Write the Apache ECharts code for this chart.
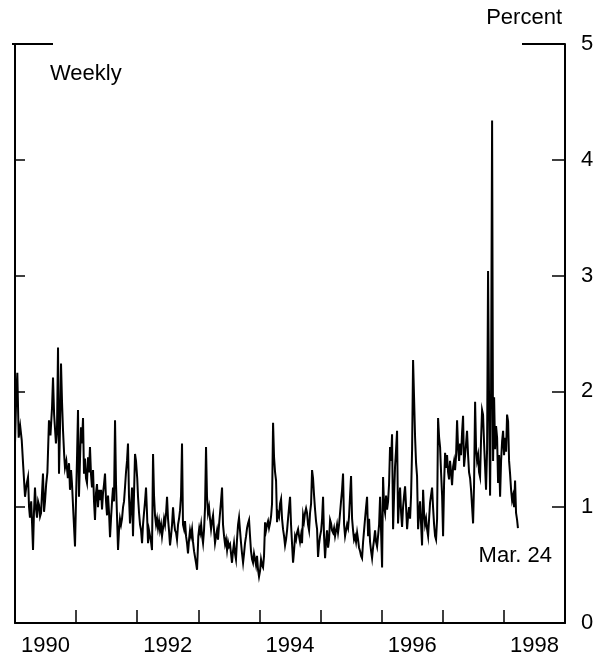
<!DOCTYPE html>
<html>
<head>
<meta charset="utf-8">
<script src="https://cdn.jsdelivr.net/npm/echarts@6/dist/echarts.min.js"></script>
<style>
html,body{margin:0;padding:0;background:#fff;}
#chart{width:607px;height:663px;}
</style>
</head>
<body>
<div id="chart"></div>
<script>
// Weekly observations: [decimal year, percent]
const obs1990 = [[1990.000,1.55],[1990.020,1.95],[1990.038,2.16],[1990.060,1.60],[1990.085,1.70],[1990.110,1.58],[1990.135,1.35],[1990.164,1.09],[1990.190,1.20],[1990.213,1.26],[1990.230,1.00],[1990.245,0.91],[1990.265,1.05],[1990.280,0.85],[1990.295,0.63],[1990.310,0.95],[1990.327,1.17],[1990.345,0.98],[1990.360,0.91],[1990.378,1.05],[1990.393,1.02],[1990.410,0.92],[1990.426,0.95],[1990.440,1.10],[1990.458,1.29],[1990.475,0.96],[1990.491,1.05],[1990.510,1.20],[1990.530,1.30],[1990.556,1.75],[1990.580,1.62],[1990.606,1.86],[1990.622,2.12],[1990.640,1.80],[1990.655,1.79],[1990.670,1.55],[1990.687,1.66],[1990.704,2.38],[1990.720,1.29],[1990.737,1.70],[1990.753,2.24],[1990.770,1.90],[1990.786,1.66],[1990.805,1.45],[1990.818,1.34],[1990.840,1.40],[1990.865,1.25],[1990.884,1.38],[1990.900,1.15],[1990.917,1.32],[1990.933,1.20],[1990.955,0.95],[1990.982,0.66]];
const obs1991 = [[1991.000,1.10],[1991.015,1.43],[1991.031,1.84],[1991.047,1.09],[1991.063,1.40],[1991.080,1.69],[1991.096,1.55],[1991.113,1.77],[1991.129,1.29],[1991.145,1.42],[1991.162,1.25],[1991.178,1.21],[1991.195,1.43],[1991.210,1.30],[1991.227,1.52],[1991.244,1.28],[1991.260,1.17],[1991.277,1.32],[1991.293,1.05],[1991.309,0.89],[1991.325,1.12],[1991.342,1.20],[1991.358,1.00],[1991.375,1.15],[1991.391,1.06],[1991.408,1.15],[1991.424,0.98],[1991.440,1.12],[1991.457,1.20],[1991.473,1.29],[1991.490,1.05],[1991.506,0.93],[1991.522,1.10],[1991.539,0.95],[1991.555,0.74],[1991.571,0.90],[1991.588,1.05],[1991.604,1.17],[1991.620,1.05],[1991.637,1.75],[1991.653,1.20],[1991.669,0.93],[1991.686,0.63],[1991.702,0.80],[1991.718,0.90],[1991.735,0.85],[1991.751,0.90],[1991.768,1.00],[1991.784,1.05],[1991.800,1.17],[1991.816,1.30],[1991.833,1.40],[1991.849,1.55],[1991.865,1.10],[1991.882,0.86],[1991.898,1.00],[1991.915,1.17],[1991.931,0.75],[1991.947,1.10],[1991.964,1.46],[1991.980,1.40]];
const obs1992 = [[1992.000,1.25],[1992.013,1.09],[1992.030,0.95],[1992.046,0.85],[1992.063,0.80],[1992.079,0.69],[1992.095,0.85],[1992.111,0.95],[1992.128,1.05],[1992.144,1.17],[1992.160,0.95],[1992.177,0.69],[1992.193,0.80],[1992.210,0.75],[1992.226,0.70],[1992.242,0.63],[1992.259,1.46],[1992.275,1.10],[1992.291,0.93],[1992.308,0.85],[1992.324,0.90],[1992.340,0.82],[1992.357,0.88],[1992.373,0.80],[1992.390,0.85],[1992.406,0.75],[1992.422,0.82],[1992.439,0.90],[1992.455,0.85],[1992.472,0.95],[1992.488,1.09],[1992.504,0.90],[1992.520,0.80],[1992.537,0.67],[1992.553,0.75],[1992.570,0.85],[1992.586,1.00],[1992.602,0.88],[1992.619,0.80],[1992.635,0.78],[1992.651,0.72],[1992.668,0.85],[1992.684,0.90],[1992.700,0.97],[1992.717,1.10],[1992.733,1.55],[1992.749,0.85],[1992.766,0.81],[1992.782,0.88],[1992.799,0.75],[1992.815,0.69],[1992.831,0.60],[1992.848,0.72],[1992.864,0.80],[1992.880,0.75],[1992.897,0.81],[1992.913,0.70],[1992.930,0.62],[1992.946,0.57],[1992.962,0.52],[1992.979,0.46]];
const obs1993 = [[1993.000,0.75],[1993.015,0.82],[1993.030,0.78],[1993.046,0.85],[1993.062,0.75],[1993.077,0.69],[1993.093,0.80],[1993.110,1.00],[1993.126,1.52],[1993.142,1.09],[1993.158,0.95],[1993.175,1.00],[1993.191,0.90],[1993.208,0.81],[1993.224,0.88],[1993.241,0.93],[1993.257,0.80],[1993.273,0.69],[1993.290,0.75],[1993.306,0.80],[1993.322,0.72],[1993.339,0.85],[1993.355,0.95],[1993.371,1.05],[1993.388,1.17],[1993.404,0.85],[1993.421,0.75],[1993.437,0.68],[1993.453,0.72],[1993.470,0.63],[1993.486,0.70],[1993.502,0.66],[1993.519,0.68],[1993.535,0.60],[1993.551,0.52],[1993.567,0.62],[1993.584,0.69],[1993.600,0.60],[1993.616,0.55],[1993.633,0.72],[1993.650,0.85],[1993.666,0.91],[1993.682,0.80],[1993.699,0.69],[1993.715,0.60],[1993.732,0.52],[1993.748,0.60],[1993.764,0.69],[1993.781,0.75],[1993.797,0.82],[1993.813,0.86],[1993.830,0.89],[1993.846,0.75],[1993.862,0.62],[1993.879,0.55],[1993.895,0.52],[1993.911,0.60],[1993.928,0.55],[1993.944,0.50],[1993.960,0.58],[1993.977,0.46],[1993.993,0.40]];
const obs1994 = [[1994.010,0.45],[1994.026,0.55],[1994.043,0.50],[1994.059,0.48],[1994.075,0.58],[1994.092,0.87],[1994.108,0.80],[1994.125,0.85],[1994.141,0.88],[1994.157,0.82],[1994.173,0.86],[1994.190,0.92],[1994.206,1.03],[1994.223,1.73],[1994.239,1.43],[1994.256,1.30],[1994.272,1.23],[1994.288,0.87],[1994.304,0.95],[1994.321,0.92],[1994.337,1.03],[1994.354,1.07],[1994.370,0.90],[1994.386,0.81],[1994.403,0.75],[1994.419,0.67],[1994.435,0.72],[1994.452,0.80],[1994.468,0.90],[1994.485,1.00],[1994.501,1.09],[1994.517,0.85],[1994.533,0.69],[1994.550,0.52],[1994.566,0.62],[1994.583,0.75],[1994.599,0.72],[1994.615,0.78],[1994.632,0.81],[1994.648,0.75],[1994.664,0.70],[1994.681,0.76],[1994.697,0.69],[1994.714,0.93],[1994.730,0.88],[1994.746,0.95],[1994.763,0.99],[1994.779,0.95],[1994.795,0.85],[1994.812,0.80],[1994.828,0.95],[1994.845,1.03],[1994.861,1.32],[1994.877,1.25],[1994.894,1.10],[1994.910,0.98],[1994.926,0.88],[1994.943,0.81],[1994.959,0.57],[1994.975,0.68],[1994.992,0.75]];
const obs1995 = [[1995.010,0.80],[1995.025,0.90],[1995.041,1.09],[1995.057,0.75],[1995.074,0.56],[1995.090,0.70],[1995.106,0.80],[1995.123,0.65],[1995.139,0.72],[1995.156,0.89],[1995.172,0.86],[1995.188,0.80],[1995.205,0.78],[1995.221,0.82],[1995.237,0.75],[1995.254,0.80],[1995.270,0.85],[1995.286,0.78],[1995.303,0.85],[1995.319,0.95],[1995.335,1.05],[1995.352,1.15],[1995.368,1.29],[1995.385,0.85],[1995.401,0.75],[1995.417,0.80],[1995.434,0.85],[1995.450,0.82],[1995.466,0.92],[1995.483,1.10],[1995.499,1.27],[1995.516,0.90],[1995.532,0.80],[1995.548,0.72],[1995.565,0.75],[1995.581,0.70],[1995.598,0.78],[1995.614,0.72],[1995.630,0.65],[1995.647,0.62],[1995.663,0.58],[1995.679,0.56],[1995.696,0.70],[1995.712,0.80],[1995.728,0.90],[1995.745,1.00],[1995.761,1.09],[1995.778,0.75],[1995.794,0.90],[1995.810,0.70],[1995.827,0.62],[1995.843,0.56],[1995.859,0.65],[1995.876,0.72],[1995.892,0.80],[1995.908,0.70],[1995.925,0.66],[1995.941,0.75],[1995.958,0.85],[1995.974,1.09],[1995.990,0.80]];
const obs1996 = [[1996.007,0.48],[1996.023,1.26],[1996.040,1.00],[1996.056,0.95],[1996.072,1.10],[1996.088,0.98],[1996.105,1.05],[1996.121,1.20],[1996.137,1.52],[1996.154,1.40],[1996.170,1.63],[1996.187,0.81],[1996.203,1.10],[1996.219,1.35],[1996.236,1.50],[1996.252,1.66],[1996.268,0.86],[1996.285,1.05],[1996.301,1.17],[1996.318,0.95],[1996.334,0.83],[1996.350,1.00],[1996.367,1.10],[1996.383,1.18],[1996.400,1.00],[1996.416,0.81],[1996.432,0.92],[1996.449,1.00],[1996.465,0.90],[1996.481,1.10],[1996.498,1.50],[1996.514,2.27],[1996.530,1.95],[1996.547,1.60],[1996.563,1.38],[1996.579,1.27],[1996.596,0.81],[1996.612,0.95],[1996.628,1.05],[1996.645,0.85],[1996.661,0.67],[1996.678,1.15],[1996.694,0.95],[1996.710,0.85],[1996.727,0.90],[1996.743,0.81],[1996.760,0.75],[1996.776,0.90],[1996.792,1.04],[1996.809,1.05],[1996.825,1.17],[1996.841,1.00],[1996.858,0.85],[1996.874,0.75],[1996.890,0.72],[1996.907,0.90],[1996.923,1.77],[1996.940,1.60],[1996.956,1.52],[1996.972,1.30],[1996.989,1.10]];
const obs1997 = [[1997.005,0.75],[1997.021,1.20],[1997.038,1.47],[1997.054,1.34],[1997.070,1.45],[1997.087,1.30],[1997.103,1.24],[1997.119,1.40],[1997.136,1.30],[1997.152,1.19],[1997.169,1.35],[1997.185,1.40],[1997.201,1.32],[1997.218,1.45],[1997.234,1.75],[1997.250,1.52],[1997.267,1.40],[1997.283,1.55],[1997.299,1.45],[1997.316,1.65],[1997.332,1.79],[1997.348,1.35],[1997.365,1.45],[1997.381,1.55],[1997.397,1.66],[1997.414,1.45],[1997.430,1.30],[1997.447,1.25],[1997.463,1.15],[1997.480,1.00],[1997.496,0.86],[1997.512,1.20],[1997.529,1.91],[1997.545,1.50],[1997.561,1.40],[1997.578,1.45],[1997.594,1.30],[1997.610,1.26],[1997.627,1.60],[1997.643,1.84],[1997.659,1.80],[1997.676,1.55],[1997.692,1.35],[1997.708,1.15],[1997.725,1.50],[1997.741,3.04],[1997.758,1.87],[1997.774,1.10],[1997.790,2.00],[1997.807,4.34],[1997.823,1.40],[1997.840,1.95],[1997.856,1.50],[1997.872,1.70],[1997.889,1.60],[1997.905,1.21],[1997.921,1.45],[1997.938,1.09],[1997.954,1.40],[1997.971,1.57],[1997.987,1.66]];
const obs1998 = [[1998.003,1.45],[1998.020,1.60],[1998.036,1.48],[1998.052,1.80],[1998.069,1.74],[1998.085,1.40],[1998.101,1.29],[1998.118,1.15],[1998.134,1.06],[1998.150,1.10],[1998.167,1.00],[1998.183,1.23],[1998.199,0.95],[1998.216,0.89],[1998.230,0.82]];

const yearTickLabels = ['1990','1992','1994','1996','1998'];
const yTicks = [0,1,2,3,4,5];
const unitLabel = 'Percent';
const freqLabel = 'Weekly';
const lastObsLabel = 'Mar. 24';

const series = [].concat(obs1990, obs1991, obs1992, obs1993, obs1994, obs1995, obs1996, obs1997, obs1998);

const FONT = '"Liberation Sans", Arial, Helvetica, sans-serif';
const INK = '#000';

const chart = echarts.init(document.getElementById('chart'), null, {renderer: 'canvas'});

const option = {
  animation: false,
  backgroundColor: '#fff',
  grid: {left: 15, right: 42, top: 44, bottom: 40, containLabel: false},
  xAxis: [
    {
      type: 'value', min: 1990, max: 1999, interval: 1,
      axisLine: {show: true, lineStyle: {color: INK, width: 2}},
      axisTick: {show: true, inside: true, length: 13, lineStyle: {color: INK, width: 1.5}},
      axisLabel: {show: false},
      splitLine: {show: false}
    },
    {
      type: 'value', min: 1990, max: 1999, interval: 0.5,
      position: 'bottom',
      axisLine: {show: false}, axisTick: {show: false}, splitLine: {show: false},
      axisLabel: {
        show: true, margin: 12, color: INK, fontSize: 22, fontFamily: FONT,
        formatter: function (v) {
          const y = Math.floor(v + 1e-6);
          if (Math.abs(v - y - 0.5) < 1e-6 && yearTickLabels.indexOf(String(y)) >= 0) return String(y);
          return '';
        }
      }
    }
  ],
  yAxis: [
    {
      type: 'value', min: 0, max: 5, interval: 1, position: 'right',
      name: unitLabel, nameLocation: 'end', nameGap: 26,
      nameTextStyle: {color: INK, fontSize: 22, fontFamily: FONT, align: 'right', verticalAlign: 'middle', padding: [0, 3, 0, 0]},
      axisLine: {show: true, lineStyle: {color: INK, width: 2}},
      axisTick: {show: true, inside: true, length: 13, lineStyle: {color: INK, width: 1.5}},
      axisLabel: {show: true, margin: 16, color: INK, fontSize: 22, fontFamily: FONT,
        formatter: function (v) { return yTicks.indexOf(v) >= 0 ? String(v) : ''; }},
      splitLine: {show: false}
    },
    {
      type: 'value', min: 0, max: 5, interval: 1, position: 'left',
      axisLine: {show: true, lineStyle: {color: INK, width: 2}},
      axisTick: {show: true, inside: true, length: 10, lineStyle: {color: INK, width: 1.5}},
      axisLabel: {show: false},
      splitLine: {show: false}
    }
  ],
  series: [{
    type: 'line',
    xAxisIndex: 0, yAxisIndex: 0,
    data: series,
    showSymbol: false,
    symbol: 'none',
    lineStyle: {color: INK, width: 2, join: 'miter'},
    silent: true
  }]
};
chart.setOption(option);

// Partial top frame segments at the corners, anchored to axis extremes
const tl = chart.convertToPixel({xAxisIndex: 0, yAxisIndex: 0}, [1990, 5]);
const tr = chart.convertToPixel({xAxisIndex: 0, yAxisIndex: 0}, [1999, 5]);
const lastPt = chart.convertToPixel({xAxisIndex: 0, yAxisIndex: 0}, obs1998[obs1998.length - 1]);
chart.setOption({
  graphic: [
    {type: 'line', shape: {x1: tl[0] - 3, y1: tl[1], x2: tl[0] + 38, y2: tl[1]}, style: {stroke: INK, lineWidth: 2}},
    {type: 'line', shape: {x1: tr[0] - 43, y1: tr[1], x2: tr[0], y2: tr[1]}, style: {stroke: INK, lineWidth: 2}},
    {type: 'text', left: tl[0] + 35, top: tl[1] + 19,
      style: {text: freqLabel, fill: INK, font: '22px ' + FONT}},
    {type: 'text', x: lastPt[0] + 34, y: lastPt[1] + 28,
      style: {text: lastObsLabel, fill: INK, font: '22px ' + FONT, textAlign: 'right', textVerticalAlign: 'middle'}}
  ]
});
</script>
</body>
</html>
